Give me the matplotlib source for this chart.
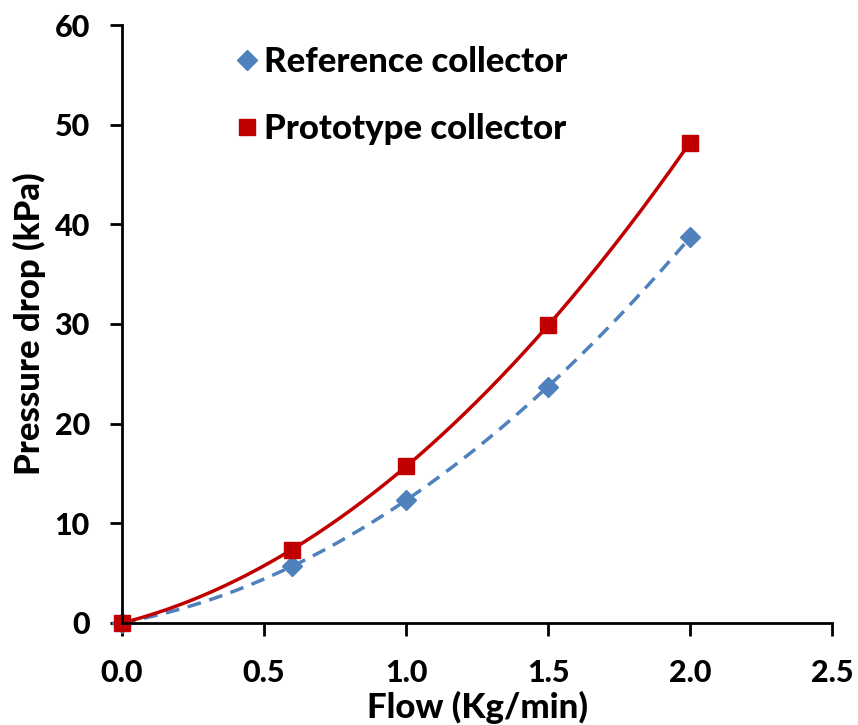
import numpy as np
import matplotlib
matplotlib.use("Agg")
import matplotlib.pyplot as plt

flow = [0.0, 0.6, 1.0, 1.5, 2.0]
reference_dp = [0.0, 5.7, 12.3, 23.7, 38.7]
prototype_dp = [0.0, 7.3, 15.7, 29.9, 48.2]

plt.rcParams['font.family'] = ['Lato', 'DejaVu Sans']
plt.rcParams['font.weight'] = 900

fig = plt.figure(figsize=(8.58, 7.25), dpi=100)
ax = fig.add_axes([0.142, 0.141, 0.828, 0.8245])

blue = "#4f81bd"
red = "#c00000"

# second-order trendlines, as the spreadsheet would fit them
xs = np.linspace(0, 2.0, 200)
ref_fit = np.polyval(np.polyfit(flow, reference_dp, 2), xs)
pro_fit = np.polyval(np.polyfit(flow, prototype_dp, 2), xs)
ax.plot(xs, ref_fit, color=blue, lw=2.5, ls=(0, (4, 2.5)))
ax.plot(xs, pro_fit, color=red, lw=2.5)

ax.plot(flow, reference_dp, ls="none", marker="D", ms=10, color=blue,
        label="Reference collector", clip_on=False)
ax.plot(flow, prototype_dp, ls="none", marker="s", ms=11.5, color=red,
        label="Prototype collector", clip_on=False)

ax.set_xlim(0, 2.5)
ax.set_ylim(0, 60)
ax.set_xticks(np.arange(0, 2.51, 0.5))
ax.set_xticklabels([f"{v:.1f}" for v in np.arange(0, 2.51, 0.5)])
ax.set_yticks(range(0, 61, 10))
for s in ["top", "right"]:
    ax.spines[s].set_visible(False)
for s in ["left", "bottom"]:
    ax.spines[s].set_linewidth(2)
ax.tick_params(direction="out", width=2, length=9, labelsize=22)
ax.tick_params(axis="x", pad=17)
ax.tick_params(axis="y", pad=14)
for lab in ax.get_xticklabels() + ax.get_yticklabels():
    lab.set_fontweight(900)
ax.set_xlabel("Flow (Kg/min)", fontsize=25, fontweight=900, labelpad=3)
ax.set_ylabel("Pressure drop (kPa)", fontsize=25, fontweight=900, labelpad=6)

leg = ax.legend(loc="upper left", bbox_to_anchor=(0.112, 1.017), frameon=False,
                prop={"size": 25, "weight": 900}, handletextpad=0.1,
                labelspacing=1.0, handlelength=0.8)

fig.savefig("out.png", dpi=100)
